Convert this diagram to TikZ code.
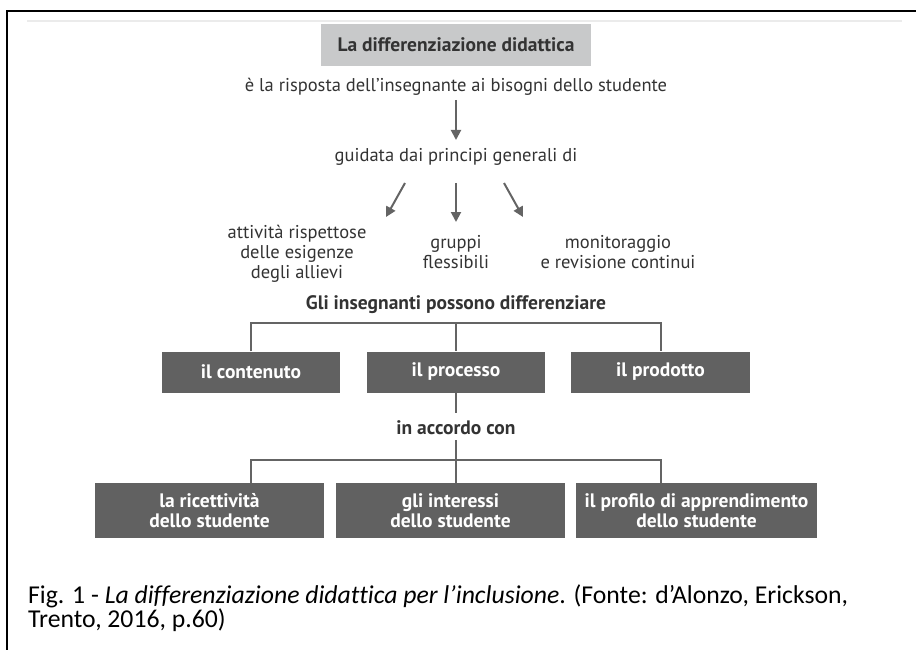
\documentclass[tikz,border=0pt]{standalone}
\usepackage{fontspec}
\setmainfont{Carlito}[Ligatures=NoCommon]
\newfontfamily\diagfont{PT Sans}
\usepackage{xcolor}
\usepackage{tikz}
\usetikzlibrary{arrows.meta}

\definecolor{boxgray}{HTML}{616161}
\definecolor{titlegray}{HTML}{C8C9CA}
\definecolor{txtgray}{HTML}{333333}
\definecolor{linegray}{HTML}{646464}

\tikzset{
	plain/.style={text=txtgray, font=\diagfont\fontsize{18.5}{20}\selectfont, align=center, inner sep=0pt},
	heading/.style={plain, font=\diagfont\bfseries\fontsize{19.5}{20}\selectfont},
	darkbox/.style={fill=boxgray, text=white, font=\diagfont\bfseries\fontsize{19.5}{20}\selectfont, align=center, inner sep=0pt},
	conn/.style={draw=linegray, line width=2pt},
	arr/.style={conn, -{Triangle[width=10pt,length=10pt]}},
}

\begin{document}
\begin{tikzpicture}[x=1pt, y=-1pt]
			\useasboundingbox (0, 0) rectangle (916, 650);
			% frame of the screenshot
			\draw[line width=2.5pt] (7, 650) -- (7, 11) -- (916, 11);
			\draw[black!8, line width=2pt] (27, 21) -- (902, 21);
			% top part
			\node[heading, fill=titlegray, minimum width=270, minimum height=42] at (456, 45) (title) {La differenziazione didattica};
			\node[plain] at (456, 87) (risp) {è la risposta dell’insegnante ai bisogni dello studente};
			\node[plain] at (456, 157) (guid) {guidata dai principi generali di};
			\node[plain] at (297, 254) (att) {attività rispettose\\delle esigenze\\degli allievi};
			\node[plain] at (456, 252) (grup) {gruppi\\flessibili};
			\node[plain] at (618, 252) (mon) {monitoraggio\\e revisione continui};
			\draw[arr] (456, 100) -- (456, 140);
			\coordinate (a1) at (405, 183);
			\coordinate (a2) at (386, 217);
			\coordinate (b2) at (456, 222);
			\coordinate (c1) at (504, 183);
			\coordinate (c2) at (523, 217);
			\draw[arr] (a1) -- (a2);
			\draw[arr] (guid.south |- a1) -- (b2);
			\draw[arr] (c1) -- (c2);
			% what can be differentiated
			\node[heading] at (456, 305) (gli) {Gli insegnanti possono differenziare};
			\node[darkbox, minimum width=178, minimum height=41] at (251, 372) (cont) {il contenuto};
			\node[darkbox, minimum width=178, minimum height=41] at (456, 372) (proc) {il processo};
			\node[darkbox, minimum width=179, minimum height=41] at (660.5, 372) (prod) {il prodotto};
			\coordinate (top) at (456, 323);
			\draw[conn] (cont.north) |- (top) -| (prod.north);
			\draw[conn] (top) -- (proc.north);
			% according to
			\node[heading] at (456, 428) (acc) {in accordo con};
			\node[darkbox, minimum width=229, minimum height=55] at (209.5, 510.5) (ric) {la ricettività\\dello studente};
			\node[darkbox, minimum width=229, minimum height=55] at (450.5, 510.5) (int) {gli interessi\\dello studente};
			\node[darkbox, minimum width=241, minimum height=55] at (696.5, 510.5) (prof) {il profilo di apprendimento\\dello studente};
			\coordinate (bot) at (456, 460);
			\draw[conn] (proc.south) -- (456, 413);
			\draw[conn] (456, 440) -- (bot);
			\draw[conn] (cont |- ric.north) |- (bot) -| (prod |- prof.north);
			\draw[conn] (bot) -- (proc |- int.north);
			% caption
			\node[anchor=base west, inner sep=0pt, font=\fontsize{25.7}{27}\selectfont] at (28, 603) (cap1) {Fig. 1 - \textit{La differenziazione didattica per l’inclusione}. (Fonte: d’Alonzo, Erickson,};
			\node[anchor=base west, inner sep=0pt, font=\fontsize{25.7}{27}\selectfont] at (28, 627) (cap2) {Trento, 2016, p.60)};
		\end{tikzpicture}
\end{document}
